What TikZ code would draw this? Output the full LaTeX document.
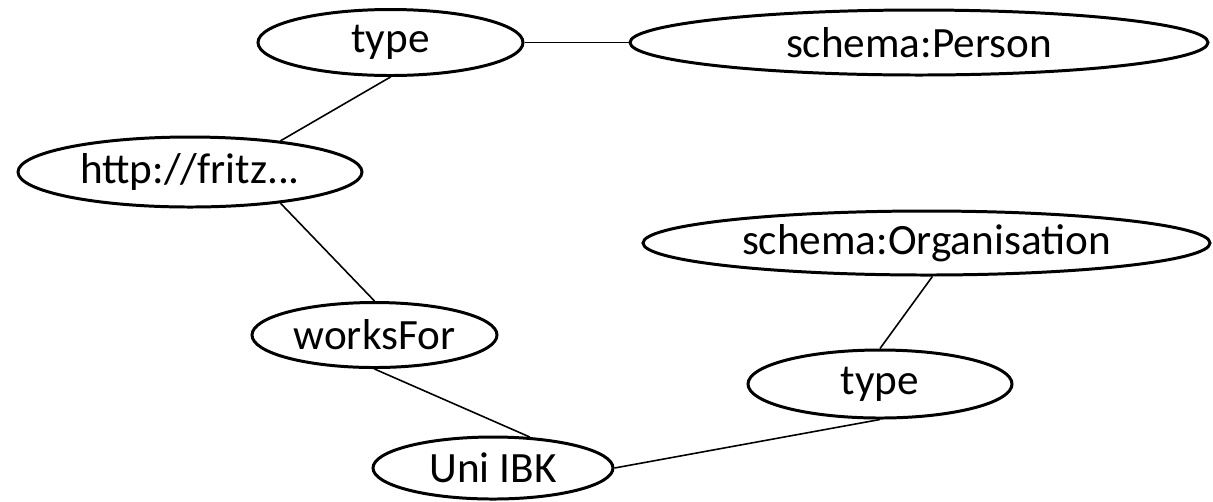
\documentclass[tikz,border=0pt]{standalone}
\usepackage{fontspec}
\setmainfont{Carlito}
\usetikzlibrary{positioning,shapes}

\tikzset{
  term/.style={shape=ellipse,draw=black,line width=0.85pt,inner sep=0pt,font=\fontsize{12.3}{14}\selectfont},
  link/.style={line width=0.45pt}
}

\begin{document}
\begin{tikzpicture}
		\useasboundingbox (0,0) rectangle (12.13,5.01);

		% the person and its type
		\node[term,minimum width=2.65cm,minimum height=0.66cm] (typeP) at (3.905,4.585) {type};
		\node[term,minimum width=5.78cm,minimum height=0.65cm,right=1.04cm of typeP] (person) {schema:Person};
		\node[term,minimum width=3.44cm,minimum height=0.70cm] (fritz) at (1.90,3.29) {http://fritz...};

		% the property
		\node[term,minimum width=2.45cm,minimum height=0.65cm] (works) at (3.745,1.66) {worksFor};

		% the organisation and its type
		\node[term,minimum width=2.40cm,minimum height=0.62cm] (uni) at (4.93,0.33) {Uni IBK};
		\node[term,minimum width=2.64cm,minimum height=0.68cm] (typeO) at (8.80,1.17) {type};
		\node[term,minimum width=5.67cm,minimum height=0.64cm] (org) at (9.265,2.58) {schema:Organisation};

		% the edges
		\draw[link] (typeP.east) -- (person.west);
		\draw[link] (typeP.south) -- (fritz.19);
		\draw[link] (fritz.-19) -- (works.north);
		\draw[link] (works.south) -- (uni.40);
		\draw[link] (uni.east) -- (typeO.south);
		\draw[link] (typeO.north) -- (org.-80);

	\end{tikzpicture}
\end{document}
